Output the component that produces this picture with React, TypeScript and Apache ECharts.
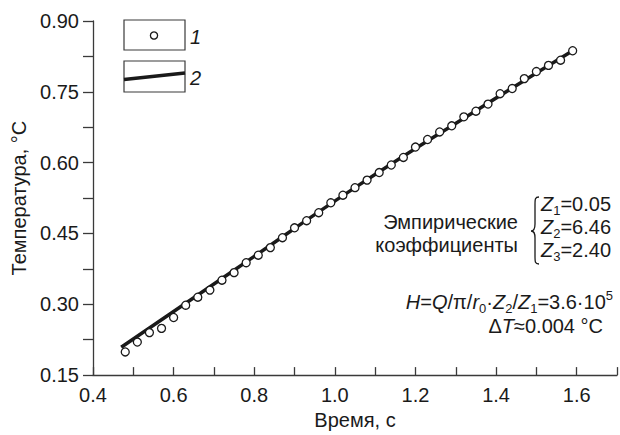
import React, { useEffect, useRef } from "react";
import * as echarts from "echarts";

// Measured data (curve 1): time, s / temperature, °C
const timeValues = [
  0.48, 0.51, 0.54, 0.57, 0.60, 0.63, 0.66, 0.69, 0.72, 0.75,
  0.78, 0.81, 0.84, 0.87, 0.90, 0.93, 0.96, 0.99, 1.02, 1.05,
  1.08, 1.11, 1.14, 1.17, 1.20, 1.23, 1.26, 1.29, 1.32, 1.35,
  1.38, 1.41, 1.44, 1.47, 1.50, 1.53, 1.56, 1.59,
];
const tempValues = [
  0.199, 0.220, 0.240, 0.249, 0.272, 0.298, 0.315, 0.330, 0.351, 0.367,
  0.388, 0.404, 0.420, 0.441, 0.462, 0.477, 0.494, 0.515, 0.531, 0.547,
  0.563, 0.579, 0.595, 0.611, 0.633, 0.649, 0.665, 0.678, 0.697, 0.709,
  0.724, 0.746, 0.757, 0.778, 0.793, 0.806, 0.817, 0.837,
];

// Model curve (curve 2)
const fitTime = [0.47, 0.75, 1.05, 1.35, 1.59];
const fitTemp = [0.209, 0.372, 0.547, 0.710, 0.837];

// Axis ticks
const xTickLabels = ["0.4", "0.6", "0.8", "1.0", "1.2", "1.4", "1.6"];
const yTickLabels = ["0.15", "0.30", "0.45", "0.60", "0.75", "0.90"];

const legendLabels = ["1", "2"];
const coefLabel = ["Эмпирические", "коэффициенты"];
const coefNames = ["1", "2", "3"];
const coefValues = ["0.05", "6.46", "2.40"];

const FONT = "'Liberation Sans', Arial, Helvetica, sans-serif";
const INK = "#1a1a1a";
const AXIS = "#3a3a3a";

echarts.graphic.registerShape(
  "brace",
  echarts.graphic.extendPath(
    "M8,0 C4,0 4,2 4,8 L4,27 C4,32 3,34 0,34 C3,34 4,36 4,41 L4,59 C4,65 4,67 8,67",
    {}
  )
);

const base = { fontSize: 20, fontFamily: FONT, fill: INK, lineHeight: 26 };
const richStyles = {
  n: { fontSize: 20, fontFamily: FONT, color: INK, lineHeight: 26 },
  i: { fontSize: 20, fontFamily: FONT, color: INK, fontStyle: "italic", lineHeight: 26 },
  sub: { fontSize: 13, fontFamily: FONT, color: INK, lineHeight: 13, verticalAlign: "bottom" },
  sup: { fontSize: 13, fontFamily: FONT, color: INK, lineHeight: 13, verticalAlign: "top" },
};

export default function App() {
  const ref = useRef<HTMLDivElement>(null);

  useEffect(() => {
    if (!ref.current) return;
    const chart = echarts.init(ref.current, null, { renderer: "svg" });

    const scatterData = timeValues.map((t, k) => [t, tempValues[k]]);
    const fitData = fitTime.map((t, k) => [t, fitTemp[k]]);

    const coefGraphics: any[] = coefNames.map((nm, k) => ({
      type: "text",
      x: 541,
      y: 204 + k * 23,
      style: {
        ...base,
        text: `{i|Z}{sub|${nm}}{n|=${coefValues[k]}}`,
        rich: richStyles,
        align: "left",
        verticalAlign: "middle",
      },
    }));

    const option: any = {
      animation: false,
      backgroundColor: "#ffffff",
      grid: { left: 93, right: 3, top: 21, bottom: 54, containLabel: false },
      xAxis: {
        type: "value",
        min: 0.4,
        max: 1.7,
        interval: 0.1,
        name: "Время, с",
        nameLocation: "middle",
        nameGap: 26,
        nameTextStyle: { fontSize: 20, fontFamily: FONT, color: INK },
        axisLine: { show: true, onZero: false, lineStyle: { color: AXIS, width: 1.3 } },
        axisTick: { show: true, inside: true, length: 8, lineStyle: { color: AXIS, width: 1.3 } },
        axisLabel: {
          fontSize: 20,
          fontFamily: FONT,
          color: INK,
          margin: 10,
          formatter: (v: number) => {
            const s = v.toFixed(1);
            return xTickLabels.includes(s) ? s : "";
          },
        },
        splitLine: { show: false },
      },
      yAxis: {
        type: "value",
        min: 0.15,
        max: 0.9,
        interval: 0.075,
        name: "Температура, °C",
        nameLocation: "middle",
        nameGap: 60,
        nameTextStyle: { fontSize: 20, fontFamily: FONT, color: INK },
        axisLine: { show: true, onZero: false, lineStyle: { color: AXIS, width: 1.3 } },
        axisTick: { show: true, inside: false, length: 10, lineStyle: { color: AXIS, width: 1.3 } },
        axisLabel: {
          fontSize: 20,
          fontFamily: FONT,
          color: INK,
          margin: 14,
          formatter: (v: number) => {
            const s = v.toFixed(2);
            return yTickLabels.includes(s) ? s : "";
          },
        },
        splitLine: { show: false },
      },
      series: [
        {
          name: "2",
          type: "line",
          data: fitData,
          showSymbol: false,
          symbol: "none",
          smooth: true,
          lineStyle: { color: INK, width: 3.5 },
          z: 2,
        },
        {
          name: "1",
          type: "scatter",
          data: scatterData,
          symbol: "circle",
          symbolSize: 8,
          itemStyle: { color: "#ffffff", borderColor: INK, borderWidth: 1.3, opacity: 1 },
          z: 3,
        },
      ],
      graphic: [
        // legend box 1
        {
          type: "rect",
          shape: { x: 124, y: 20, width: 61, height: 30 },
          style: { fill: "#fff", stroke: AXIS, lineWidth: 1.2 },
        },
        {
          type: "circle",
          shape: { cx: 154, cy: 35.5, r: 3.6 },
          style: { fill: "#fff", stroke: INK, lineWidth: 1.3 },
        },
        {
          type: "text",
          x: 190,
          y: 37,
          style: { ...base, fontStyle: "italic", text: legendLabels[0], align: "left", verticalAlign: "middle" },
        },
        // legend box 2
        {
          type: "rect",
          shape: { x: 124, y: 61, width: 61, height: 31 },
          style: { fill: "#fff", stroke: AXIS, lineWidth: 1.2 },
        },
        {
          type: "line",
          shape: { x1: 124, y1: 79.5, x2: 185, y2: 73 },
          style: { stroke: INK, lineWidth: 3.5 },
        },
        {
          type: "text",
          x: 190,
          y: 78,
          style: { ...base, fontStyle: "italic", text: legendLabels[1], align: "left", verticalAlign: "middle" },
        },
        // coefficient block
        {
          type: "text",
          x: 518,
          y: 222,
          style: { ...base, text: coefLabel[0], align: "right", verticalAlign: "middle" },
        },
        {
          type: "text",
          x: 518,
          y: 245,
          style: { ...base, text: coefLabel[1], align: "right", verticalAlign: "middle" },
        },
        {
          type: "brace",
          x: 531,
          y: 197,
          style: { fill: "none", stroke: INK, lineWidth: 1.3 },
        },
        ...coefGraphics,
        {
          type: "text",
          x: 613,
          y: 302,
          style: {
            ...base,
            text:
              "{i|H}{n|=}{i|Q}{n|/π/}{i|r}{sub|0}{n|·}{i|Z}{sub|2}{n|/}{i|Z}{sub|1}{n|=3.6·10}{sup|5}",
            rich: richStyles,
            align: "right",
            verticalAlign: "middle",
          },
        },
        {
          type: "text",
          x: 603,
          y: 326,
          style: {
            ...base,
            text: "{n|Δ}{i|T}{n|≈0.004 °C}",
            rich: richStyles,
            align: "right",
            verticalAlign: "middle",
          },
        },
      ],
    };

    chart.setOption(option);
    return () => chart.dispose();
  }, []);

  return (
    <div
      ref={ref}
      style={{ position: "fixed", left: 0, top: 0, width: 620, height: 435, background: "#fff" }}
    />
  );
}
